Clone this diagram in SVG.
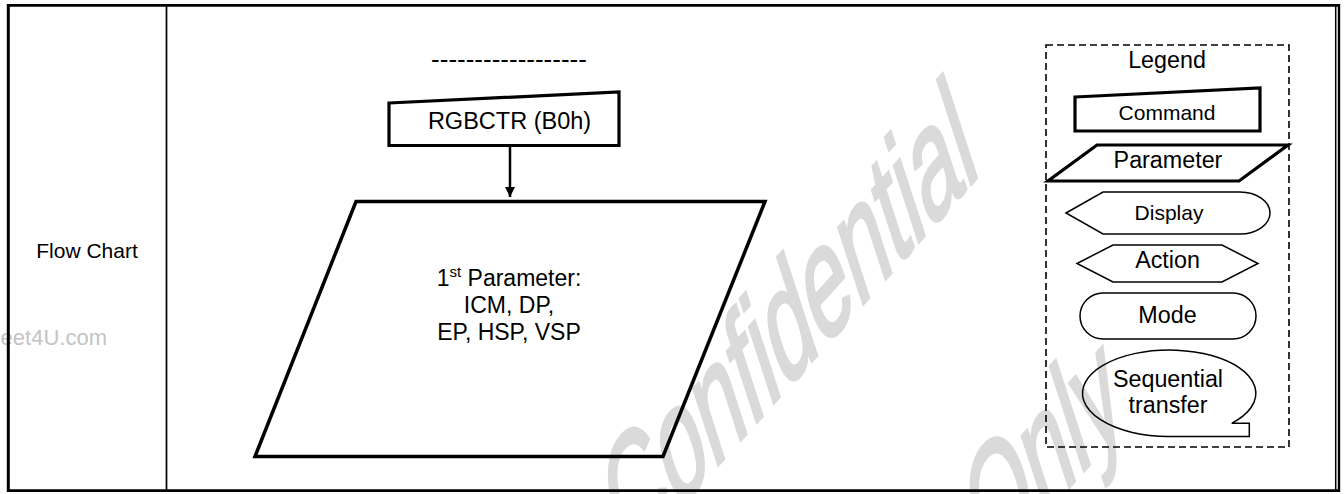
<svg xmlns="http://www.w3.org/2000/svg" width="1344" height="494" viewBox="0 0 1344 494">
<style>
text{font-family:"Liberation Sans",Arial,sans-serif;fill:#000}
.wm{fill:#dadada;stroke:#dadada;stroke-width:2.5}
.wm2{fill:#c4c4c4}
.thick{fill:none;stroke:#000;stroke-width:3.2;stroke-linejoin:miter}
.thin{fill:none;stroke:#000;stroke-width:1.5}
.lbl{font-size:23.3px;text-anchor:middle}
.sm{font-size:21px;text-anchor:middle}
</style>
<defs>
<marker id="arr" markerWidth="10" markerHeight="10" refX="10" refY="5" orient="auto" markerUnits="userSpaceOnUse">
<path d="M0,0 L10,5 L0,10 Z" fill="#000"/>
</marker>
</defs>
<rect x="0" y="0" width="1344" height="494" fill="#fff"/>
<g id="watermark">
<text class="wm2" x="107" y="345" font-size="22" text-anchor="end">eet4U.com</text>
<text class="wm" font-size="100" transform="matrix(0.669 -0.743 0.467 1.436 628 565)">Confidential</text>
<text class="wm" font-size="100" transform="matrix(0.669 -0.743 0.467 1.436 990 575)">Only</text>
</g>
<g id="frame">
<line x1="8.5" y1="5.3" x2="1340" y2="5.3" stroke="#000" stroke-width="2.8"/>
<line x1="8.5" y1="490.7" x2="1340" y2="490.7" stroke="#000" stroke-width="2.8"/>
<line x1="8.3" y1="4" x2="8.3" y2="492" stroke="#000" stroke-width="3"/>
<line x1="1335.7" y1="4" x2="1335.7" y2="492" stroke="#000" stroke-width="1.5"/>
<line x1="1339" y1="4" x2="1339" y2="492" stroke="#000" stroke-width="2.4"/>
<line x1="166.5" y1="5" x2="166.5" y2="491" stroke="#000" stroke-width="1.7"/>
<text class="sm" x="87" y="258">Flow Chart</text>
</g>
<g id="dashes">
<text x="509" y="68" font-size="26" text-anchor="middle">------------------</text>
</g>
<g id="cmd-rgbctr">
<path class="thick" d="M389,103 L619,92 L619,145.5 L389,145.5 Z"/>
<text x="509.5" y="129" font-size="23.5" text-anchor="middle">RGBCTR (B0h)</text>
</g>
<g id="param-1">
<path class="thick" style="stroke-width:3.5" d="M356,201.5 L765,201.5 L663,456.5 L255,456.5 Z"/>
<text x="509" y="285.5" font-size="23" text-anchor="middle">1<tspan font-size="15" dy="-9">st</tspan><tspan dy="9"> Parameter:</tspan></text>
<text x="509" y="313" font-size="23" text-anchor="middle">ICM, DP,</text>
<text x="509" y="340" font-size="23" text-anchor="middle">EP, HSP, VSP</text>
</g>
<g id="connectors">
<line x1="510" y1="145.5" x2="510" y2="197" stroke="#000" stroke-width="2.5" marker-end="url(#arr)"/>
</g>
<g id="legend">
<rect x="1046" y="45" width="243" height="402" fill="none" stroke="#000" stroke-width="1.6" stroke-dasharray="7 4"/>
<text class="lbl" x="1167" y="68">Legend</text>
<g id="legend-command">
<path class="thick" d="M1075,97 L1260,88 L1260,131 L1075,131 Z"/>
<text class="sm" x="1167" y="120">Command</text>
</g>
<g id="legend-parameter">
<path class="thick" d="M1097,145 L1288,145 L1239,181 L1048,181 Z"/>
<text class="lbl" x="1168" y="168">Parameter</text>
</g>
<g id="legend-display">
<path class="thin" d="M1066,213 L1103,192 L1240,192 A30,21 0 0 1 1240,234 L1103,234 Z"/>
<text class="sm" x="1169" y="220">Display</text>
</g>
<g id="legend-action">
<path class="thin" d="M1077,263.5 L1113,245 L1222,245 L1258,263.5 L1222,282 L1113,282 Z"/>
<text class="lbl" x="1167.5" y="268">Action</text>
</g>
<g id="legend-mode">
<rect class="thin" x="1080" y="293" width="176" height="46" rx="23" ry="23"/>
<text class="lbl" x="1167.5" y="322.5">Mode</text>
</g>
<g id="legend-sequential">
<path class="thin" d="M1231.7,423.3 A86.7,43.3 0 1 0 1168.3,436.6 L1249.3,436.6 L1249.3,423.3 Z"/>
<text class="lbl" x="1168" y="386.5">Sequential</text>
<text class="lbl" x="1168" y="413.3">transfer</text>
</g>
</g>
</svg>
